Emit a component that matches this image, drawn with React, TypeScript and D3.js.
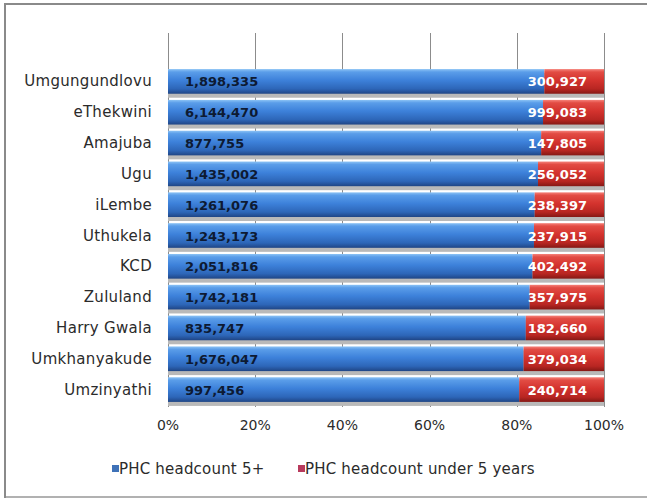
import React, { useEffect, useRef } from "react";
import * as d3 from "d3";

const categories = [
  "Umgungundlovu",
  "eThekwini",
  "Amajuba",
  "Ugu",
  "iLembe",
  "Uthukela",
  "KCD",
  "Zululand",
  "Harry Gwala",
  "Umkhanyakude",
  "Umzinyathi",
];
const headcount5plus = [1898335, 6144470, 877755, 1435002, 1261076, 1243173, 2051816, 1742181, 835747, 1676047, 997456];
const headcountUnder5 = [300927, 999083, 147805, 256052, 238397, 237915, 402492, 357975, 182660, 379034, 240714];
const seriesNames = ["PHC headcount 5+", "PHC headcount under 5 years"];
const tickValues = [0, 0.2, 0.4, 0.6, 0.8, 1];

const W = 647;
const H = 500;

export default function App() {
  const ref = useRef<SVGSVGElement | null>(null);

  useEffect(() => {
    const svg = d3.select(ref.current);
    svg.selectAll("*").remove();

    const defs = svg.append("defs");
    const mkGrad = (id: string, stops: [number, string][]) => {
      const g = defs.append("linearGradient").attr("id", id).attr("x1", 0).attr("y1", 0).attr("x2", 0).attr("y2", 1);
      stops.forEach(([o, c]) => g.append("stop").attr("offset", o).attr("stop-color", c));
    };
    mkGrad("blueG", [
      [0, "#8cc3f5"],
      [0.12, "#5a9de9"],
      [0.45, "#3d81da"],
      [0.8, "#2d66b8"],
      [1, "#1f4585"],
    ]);
    mkGrad("redG", [
      [0, "#f5827a"],
      [0.12, "#e24c44"],
      [0.45, "#d4332e"],
      [0.8, "#b82622"],
      [1, "#851815"],
    ]);

    // background and frame
    svg.append("rect").attr("x", 0).attr("y", 0).attr("width", W).attr("height", H).attr("fill", "#ffffff");
    svg
      .append("rect")
      .attr("x", 5)
      .attr("y", 4)
      .attr("width", W + 10)
      .attr("height", 493)
      .attr("fill", "none")
      .attr("stroke", "#8a8a8a")
      .attr("stroke-width", 2);
    svg
      .append("line")
      .attr("x1", 6)
      .attr("x2", W)
      .attr("y1", 497)
      .attr("y2", 497)
      .attr("stroke", "#d8d8d8")
      .attr("stroke-width", 1);

    const x0 = 168,
      x1 = 604;
    const x = d3.scaleLinear().domain([0, 1]).range([x0, x1]);
    const y = d3.scaleBand<string>().domain(categories).range([66, 405]).paddingInner(0.2).paddingOuter(0.1);

    // gridlines
    svg
      .append("g")
      .selectAll("line")
      .data(tickValues)
      .join("line")
      .attr("x1", (d) => Math.round(x(d)) + 0.5)
      .attr("x2", (d) => Math.round(x(d)) + 0.5)
      .attr("y1", 33)
      .attr("y2", 407)
      .attr("stroke", "#8c8c8c")
      .attr("stroke-width", 1);

    const rows = categories.map((c, i) => {
      const total = headcount5plus[i] + headcountUnder5[i];
      return { c, a: headcount5plus[i], b: headcountUnder5[i], p: headcount5plus[i] / total };
    });

    const bw = y.bandwidth();
    const g = svg.append("g");
    // shadows
    g.selectAll("rect.sh")
      .data(rows)
      .join("rect")
      .attr("class", "sh")
      .attr("x", x(0))
      .attr("y", (d) => (y(d.c) as number) + 4)
      .attr("width", x(1) - x(0))
      .attr("height", bw)
      .attr("fill", "#b9b9b9");
    g.selectAll("rect.b")
      .data(rows)
      .join("rect")
      .attr("class", "b")
      .attr("x", x(0))
      .attr("y", (d) => y(d.c) as number)
      .attr("width", (d) => x(d.p) - x(0))
      .attr("height", bw)
      .attr("fill", "url(#blueG)");
    g.selectAll("rect.r")
      .data(rows)
      .join("rect")
      .attr("class", "r")
      .attr("x", (d) => x(d.p))
      .attr("y", (d) => y(d.c) as number)
      .attr("width", (d) => x(1) - x(d.p))
      .attr("height", bw)
      .attr("fill", "url(#redG)");

    const fmt = d3.format(",");
    g.selectAll("text.bl")
      .data(rows)
      .join("text")
      .attr("class", "bl")
      .attr("x", x(0) + 17)
      .attr("y", (d) => (y(d.c) as number) + bw / 2 + 5)
      .attr("font-family", "DejaVu Sans")
      .attr("font-weight", "bold")
      .attr("font-size", 13)
      .attr("fill", "#0d1a33")
      .text((d) => fmt(d.a));
    g.selectAll("text.rl")
      .data(rows)
      .join("text")
      .attr("class", "rl")
      .attr("x", x(1) - 17)
      .attr("text-anchor", "end")
      .attr("y", (d) => (y(d.c) as number) + bw / 2 + 5)
      .attr("font-family", "DejaVu Sans")
      .attr("font-weight", "bold")
      .attr("font-size", 13)
      .attr("fill", "#ffffff")
      .text((d) => fmt(d.b));

    // category labels
    svg
      .append("g")
      .selectAll("text")
      .data(categories)
      .join("text")
      .attr("x", 152)
      .attr("y", (d) => (y(d) as number) + bw / 2 + 5)
      .attr("text-anchor", "end")
      .attr("font-family", "DejaVu Sans")
      .attr("font-size", 15)
      .attr("letter-spacing", 0.3)
      .attr("fill", "#2b2b2b")
      .text((d) => d);

    // x tick labels
    const pf = d3.format(".0%");
    svg
      .append("g")
      .selectAll("text")
      .data(tickValues)
      .join("text")
      .attr("x", (d) => x(d))
      .attr("y", 430)
      .attr("text-anchor", "middle")
      .attr("font-family", "DejaVu Sans")
      .attr("font-size", 14)
      .attr("fill", "#2b2b2b")
      .text((d) => pf(d));

    // legend
    const legendX = [112, 298];
    const legendColors = ["#3f72b8", "#b83a5c"];
    const lg = svg.append("g");
    seriesNames.forEach((name, i) => {
      lg.append("rect")
        .attr("x", legendX[i])
        .attr("y", 465)
        .attr("width", 7)
        .attr("height", 7)
        .attr("fill", legendColors[i]);
      lg.append("text")
        .attr("x", legendX[i] + 7)
        .attr("y", 474)
        .attr("font-family", "DejaVu Sans")
        .attr("font-size", 15)
        .attr("letter-spacing", 0.2)
        .attr("fill", "#2b2b2b")
        .text(name);
    });
  }, []);

  return (
    <svg
      ref={ref}
      width={W}
      height={H}
      style={{ position: "absolute", left: 0, top: 0, display: "block" }}
    />
  );
}
